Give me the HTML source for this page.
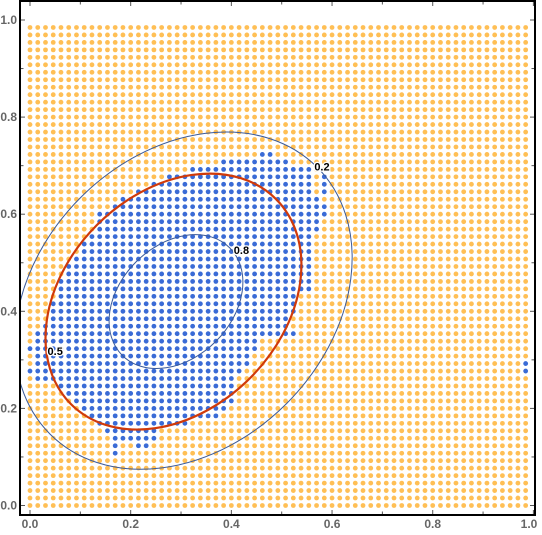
<!DOCTYPE html>
<html><head><meta charset="utf-8"><style>
html,body{margin:0;padding:0;background:#fff}
svg{display:block}
text{font-family:"Liberation Sans",sans-serif}
</style></head><body>
<svg id="chart" width="542" height="535" viewBox="0 0 542 535">
<defs><clipPath id="plotclip"><rect x="21" y="2" width="513" height="512"/></clipPath></defs>
<g id="dots"></g>
<g id="contours" clip-path="url(#plotclip)"></g>
<g id="labels"></g>
<rect x="20" y="1" width="515" height="514" fill="none" stroke="#000" stroke-width="2"/>
<g id="axes"></g>
</svg>
<script>
// grid data
const gridN = 65;
// blue rows: [row, startCol, endCol]
const blueRows = [
[47,30,31],[46,25,33],[45,21,36],[44,18,36],[43,16,36],[42,14,36],[41,12,37],[40,11,37],
[39,9,37],[38,9,37],[37,9,37],[36,8,36],[35,7,36],[34,7,36],[33,6,36],[32,5,36],[31,5,36],
[30,4,36],[29,4,36],[28,4,34],[27,3,34],[26,3,34],[25,3,33],[24,2,33],[23,1,34],[22,1,29],
[21,0,29],[20,1,28],[19,1,28],[18,0,27],[17,1,26],[16,4,26],[15,5,26],[14,6,26],[13,7,25],
[12,8,24],[11,9,20],[10,10,16],[9,11,16],[8,14,15],[7,11,11]
];
const blueExtra = [[8,11],[19,64],[18,64],[44,38],[43,38],[42,38],[40,38],[39,38]];
// contour levels
const contourLabels = ["0.2","0.5","0.8"];
const contourCx = [0.305, 0.285, 0.29];
const contourCy = [0.422, 0.42, 0.42];
const contourA = [0.375, 0.288, 0.151];
const contourB = [0.30, 0.223, 0.116];
const contourAngle = [-45, -45, -45];
const contourLabelX = [0.58, 0.05, 0.42];
const contourLabelY = [0.69, 0.31, 0.518];
const xTicks = [0,0.2,0.4,0.6,0.8,1.0];
const yTicks = [0,0.2,0.4,0.6,0.8,1.0];

const X0=30, XU=503.4, Y0=505.5, YU=485.5;
const sx = v => X0 + v*XU;
const sy = v => Y0 - v*YU;
const NS="http://www.w3.org/2000/svg";
function mk(tag, attrs, parent){const e=document.createElementNS(NS,tag);for(const k in attrs)e.setAttribute(k,attrs[k]);parent.appendChild(e);return e;}

const blueSet = new Set();
blueRows.forEach(r=>{for(let c=r[1];c<=r[2];c++)blueSet.add(r[0]+","+c);});
blueExtra.forEach(p=>blueSet.add(p[0]+","+p[1]));

const dots=document.getElementById("dots");
for(let j=0;j<gridN;j++){for(let i=0;i<gridN;i++){
  const blue=blueSet.has(j+","+i);
  const c=mk("circle",{cx:sx(i/gridN),cy:sy(j/gridN),r:2.4,fill:blue?"#3a6bd6":"#ffbf55"},dots);
  
  
}}

const cg=document.getElementById("contours");
const lg=document.getElementById("labels");
contourLabels.forEach((lab,k)=>{
  const cx=sx(contourCx[k]), cy=sy(contourCy[k]);
  const isMain = lab==="0.5";
  const e=mk("ellipse",{cx:cx,cy:cy,rx:contourA[k]*XU,ry:contourB[k]*YU,
    transform:`rotate(${contourAngle[k]} ${cx} ${cy})`,fill:"none",
    stroke:isMain?"#d03a0a":"#3a5a9a","stroke-width":isMain?2.2:1},cg);
  
  
  const t=mk("text",{x:sx(contourLabelX[k]),y:sy(contourLabelY[k]),"font-size":"11","font-weight":"bold",fill:"#000",stroke:"#fff","stroke-width":"2.5","paint-order":"stroke","text-anchor":"middle"},lg);
  t.textContent=lab;
  
  
});

const ax=document.getElementById("axes");
for(let k=0;k<=10;k++){
  const v=k/10, major=k%2===0, len=major?4:2.5;
  const a=mk("line",{x1:sx(v),x2:sx(v),y1:514,y2:514-len,stroke:"#555","stroke-width":1},ax);
  
  
  const a2=mk("line",{x1:sx(v),x2:sx(v),y1:2,y2:2+len,stroke:"#555","stroke-width":1},ax);
  
  
  const b=mk("line",{x1:21,x2:21+len,y1:sy(v),y2:sy(v),stroke:"#555","stroke-width":1},ax);
  
  
  const b2=mk("line",{x1:534,x2:534-len,y1:sy(v),y2:sy(v),stroke:"#555","stroke-width":1},ax);
  
  
}
xTicks.forEach(v=>{
  const t=mk("text",{x:Math.min(sx(v),529),y:528,"font-size":"12","font-weight":"bold",fill:"#666","text-anchor":"middle"},ax);
  t.textContent=v.toFixed(1);
  
  
});
yTicks.forEach(v=>{
  const t=mk("text",{x:17,y:sy(v)+4,"font-size":"12","font-weight":"bold",fill:"#666","text-anchor":"end"},ax);
  t.textContent=v.toFixed(1);
  
  
});
</script>
</body></html>
